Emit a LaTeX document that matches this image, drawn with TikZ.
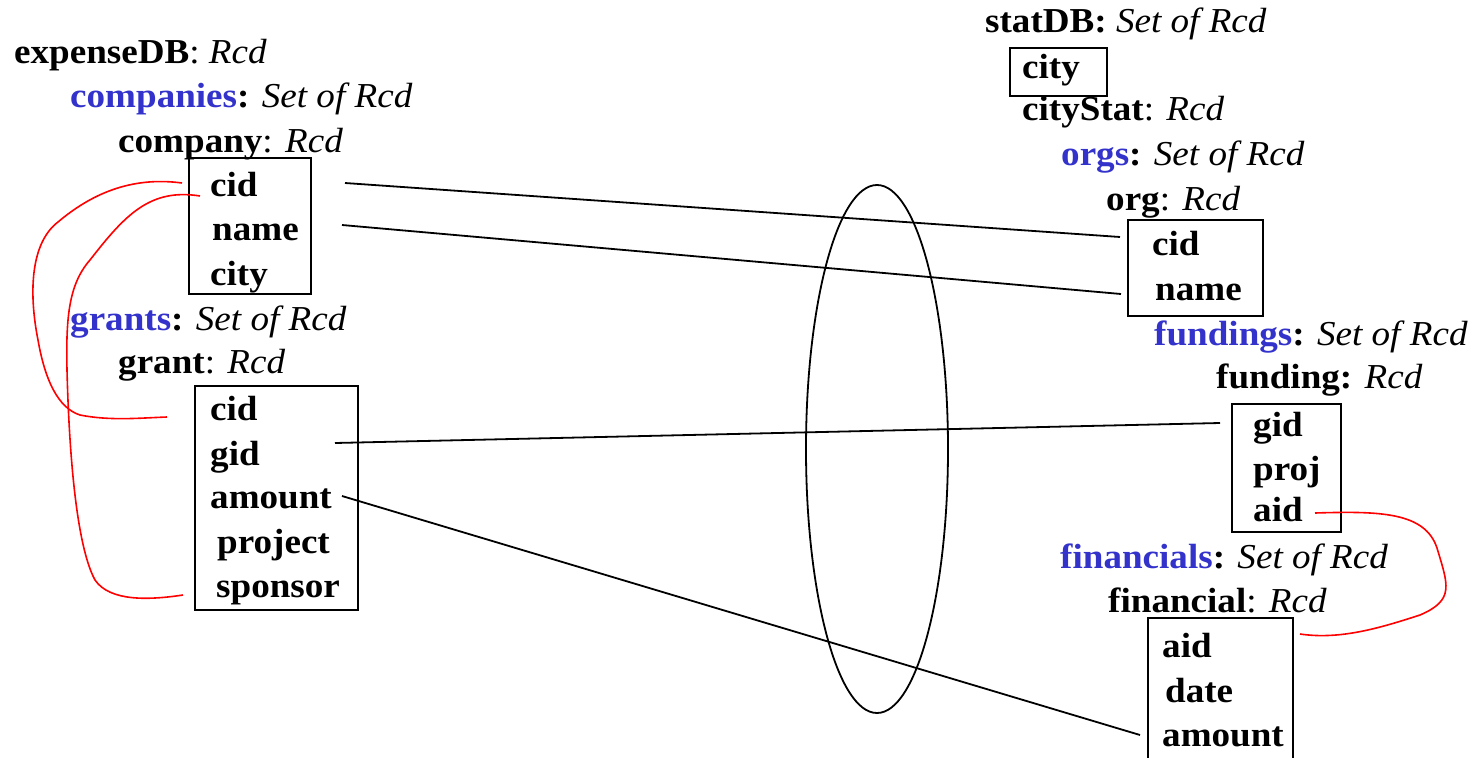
\documentclass[tikz,border=0pt]{standalone}
\usepackage{fontspec}
\setmainfont[FakeStretch=1.06]{Liberation Serif}
\usetikzlibrary{shapes.geometric}
\definecolor{setblue}{RGB}{51,51,204}
\newcommand\bluebf[1]{\textcolor{setblue}{\textbf{#1}}}
\begin{document}
\begin{tikzpicture}[x=1pt,y=-1pt,
  lbl/.style={anchor=base west, inner sep=0pt, font=\fontsize{35}{40}\selectfont},
  fld/.style={anchor=base west, inner sep=0pt, font=\fontsize{35}{40}\selectfont\bfseries},
  rbox/.style={draw, line width=2.2pt, inner sep=0pt, anchor=north west},
  link/.style={line width=1.8pt},
  rlink/.style={red, line width=1.6pt}]
\useasboundingbox (0,0) rectangle (1476,758);

% ---------- left: expenseDB ----------
\node[lbl] (eDB) at (14,63) {\textbf{expenseDB}: \textit{Rcd}};
\node[lbl] (comps) at (70,107) {\bluebf{companies}\textbf{:} \textit{Set of Rcd}};
\node[lbl] (comp) at (118,152) {\textbf{company}: \textit{Rcd}};
\node[rbox, minimum width=122pt, minimum height=136pt] (compbox) at (188,157) {};
\node[fld] (ccid) at (210,196) {cid};
\node[fld] (cname) at (212,240) {name};
\node[fld] (ccity) at (210,285) {city};

\node[lbl] (grants) at (70,330) {\bluebf{grants}\textbf{:} \textit{Set of Rcd}};
\node[lbl] (grant) at (118,373) {\textbf{grant}: \textit{Rcd}};
\node[rbox, minimum width=163pt, minimum height=224pt] (grantbox) at (194,385) {};
\node[fld] (gcid) at (210,420) {cid};
\node[fld] (ggid) at (210,465) {gid};
\node[fld] (gamount) at (210,508) {amount};
\node[fld] (gproject) at (217,553) {project};
\node[fld] (gsponsor) at (216,597) {sponsor};

% ---------- right: statDB ----------
\node[lbl] (sDB) at (985,32) {\textbf{statDB:} \textit{Set of Rcd}};
\node[rbox, minimum width=97pt, minimum height=48pt] (citybox) at (1009,47) {};
\node[fld] (scity) at (1022,78) {city};
\node[lbl] (cstat) at (1022,120) {\textbf{cityStat}: \textit{Rcd}};
\node[lbl] (orgs) at (1061,165) {\bluebf{orgs}\textbf{:} \textit{Set of Rcd}};
\node[lbl] (org) at (1106,210) {\textbf{org}: \textit{Rcd}};
\node[rbox, minimum width=135pt, minimum height=96pt] (orgbox) at (1127,219) {};
\node[fld] (ocid) at (1152,255) {cid};
\node[fld] (oname) at (1155,300) {name};

\node[lbl] (fundings) at (1154,345) {\bluebf{fundings}\textbf{:} \textit{Set of Rcd}};
\node[lbl] (funding) at (1216,388) {\textbf{funding:} \textit{Rcd}};
\node[rbox, minimum width=109pt, minimum height=128pt] (fundbox) at (1231,403) {};
\node[fld] (fgid) at (1253,436) {gid};
\node[fld] (fproj) at (1253,480) {proj};
\node[fld] (faid) at (1253,521) {aid};

\node[lbl] (fins) at (1060,568) {\bluebf{financials}\textbf{:} \textit{Set of Rcd}};
\node[lbl] (fin) at (1108,612) {\textbf{financial}: \textit{Rcd}};
\node[rbox, minimum width=145pt, minimum height=200pt] (finbox) at (1147,617) {};
\node[fld] (faid2) at (1162,657) {aid};
\node[fld] (fdate) at (1165,702) {date};
\node[fld] (famount) at (1162,746) {amount};

% ---------- ellipse ----------
\node[draw, ellipse, line width=1.8pt, inner sep=0pt, minimum width=142pt, minimum height=528pt] (ell) at (877,449) {};

% ---------- correspondences ----------
\coordinate (p1a) at (345,183); \coordinate (p1b) at (1120,237);
\coordinate (p2a) at (342,225); \coordinate (p2b) at (1121,294);
\coordinate (p3a) at (335,443); \coordinate (p3b) at (1220,423);
\coordinate (p4a) at (342,496); \coordinate (p4b) at (1140,735);
\draw[link] (p1a) -- (p1b);
\draw[link] (p2a) -- (p2b);
\draw[link] (p3a) -- (p3b);
\draw[link] (p4a) -- (p4b);

% ---------- red constraints ----------
\coordinate (r1a) at (182,183); \coordinate (r1b) at (167,417);
\coordinate (r2a) at (200,196); \coordinate (r2b) at (183,595);
\coordinate (r3a) at (1315,513); \coordinate (r3b) at (1300,634);
\draw[rlink] (r1a) .. controls (130,176) and (90,195) .. (58,222)
  .. controls (28,245) and (30,300) .. (38,340)
  .. controls (45,380) and (58,408) .. (80,415)
  .. controls (110,421) and (140,418) .. (r1b);
\draw[rlink] (r2a) .. controls (150,188) and (125,215) .. (90,260)
  .. controls (68,285) and (66,320) .. (67,370)
  .. controls (69,450) and (76,545) .. (95,580)
  .. controls (110,602) and (150,600) .. (r2b);
\draw[rlink] (r3a) .. controls (1380,511) and (1425,512) .. (1437,548)
  .. controls (1448,585) and (1455,600) .. (1420,615)
  .. controls (1380,628) and (1340,640) .. (r3b);
\end{tikzpicture}
\end{document}
